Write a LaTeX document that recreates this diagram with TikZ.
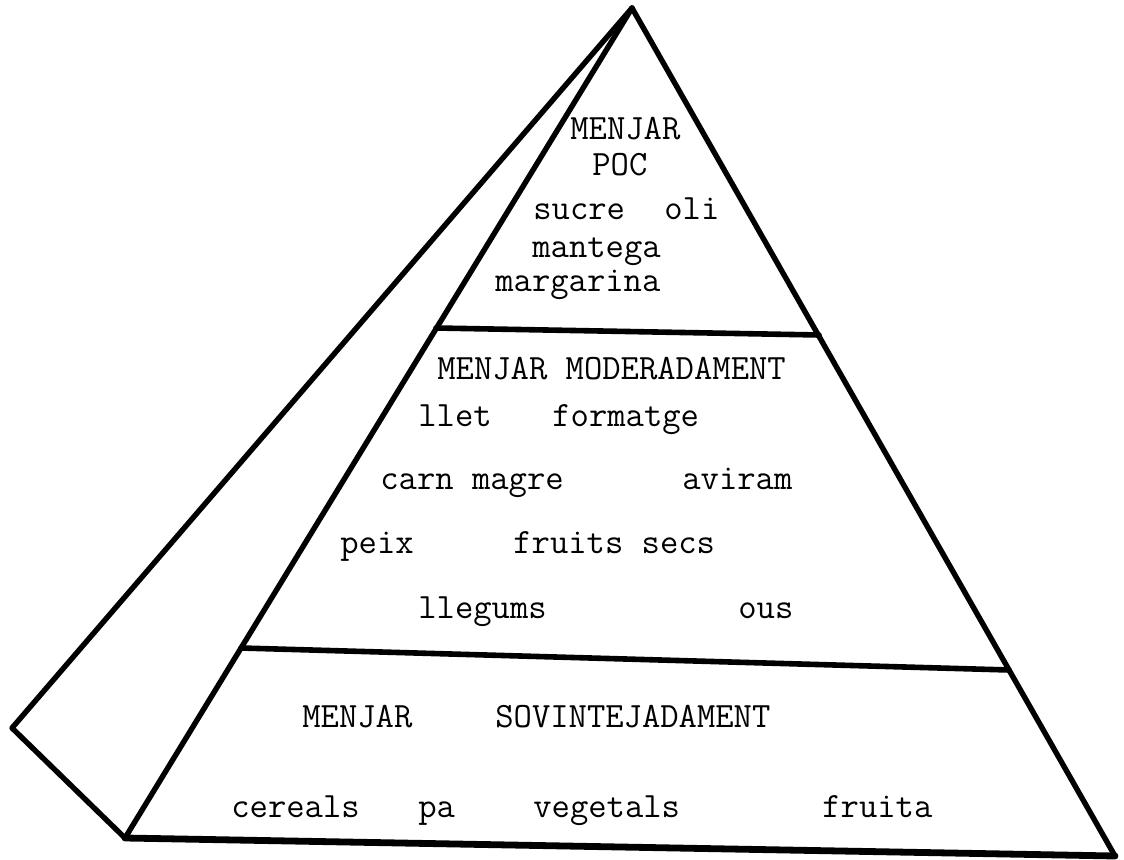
\documentclass[tikz,border=0pt]{standalone}
\usepackage{fontspec}
\newcommand{\foodfont}{\ttfamily\fontsize{17.8}{20}\selectfont}
\begin{document}
\begin{tikzpicture}[x=0.5pt,y=-0.5pt,
  edge/.style={line width=2.7pt, line join=round, line cap=round},
  band/.style={line width=2.8pt, line cap=round},
  food/.style={anchor=base west, inner sep=0pt, font=\foodfont}]
\useasboundingbox[fill=white] (0,0) rectangle (1124,860);
% corners of the pyramid
\coordinate (apex) at (632,8);
\coordinate (back) at (12,728);
\coordinate (bl) at (125,838);
\coordinate (br) at (1115,856);
\draw[edge] (apex) -- (back) -- (bl);
\draw[edge] (apex) -- (bl);
\draw[edge] (apex) -- (br);
\draw[edge, line width=3.4pt] (bl) -- (br);
% levels
\coordinate (topl) at (436,328);
\coordinate (topr) at (819,335);
\coordinate (lowl) at (241,648);
\coordinate (lowr) at (1009,670);
\draw[band] (topl) -- (topr);
\draw[band] (lowl) -- (lowr);
% top level
\node[food, text depth=0pt] (poc1) at (570,140) {MENJAR};
\node[food] (poc2) at (592,176) {POC};
\node[food] (sucre) at (533,220) {sucre};
\node[food] (oli) at (664,220) {oli};
\node[food] (mantega) at (532,258) {mantega};
\node[food] (margarina) at (495,292) {margarina};
% middle level
\node[food] (moder) at (437,380) {MENJAR MODERADAMENT};
\node[food] (llet) at (418,427) {llet};
\node[food] (formatge) at (552,427) {formatge};
\node[food] (carn) at (380,490) {carn magre};
\node[food] (aviram) at (682,490) {aviram};
\node[food] (peix) at (340,553) {peix};
\node[food] (fruits) at (513,553) {fruits secs};
\node[food] (llegums) at (418,618) {llegums};
\node[food] (ous) at (738,618) {ous};
% bottom level
\node[food] (sov1) at (302,727) {MENJAR};
\node[food] (sov2) at (495,727) {SOVINTEJADAMENT};
\node[food] (cereals) at (231,817) {cereals};
\node[food] (pa) at (418,817) {pa};
\node[food] (vegetals) at (533,817) {vegetals};
\node[food] (fruita) at (822,817) {fruita};
\end{tikzpicture}
\end{document}
